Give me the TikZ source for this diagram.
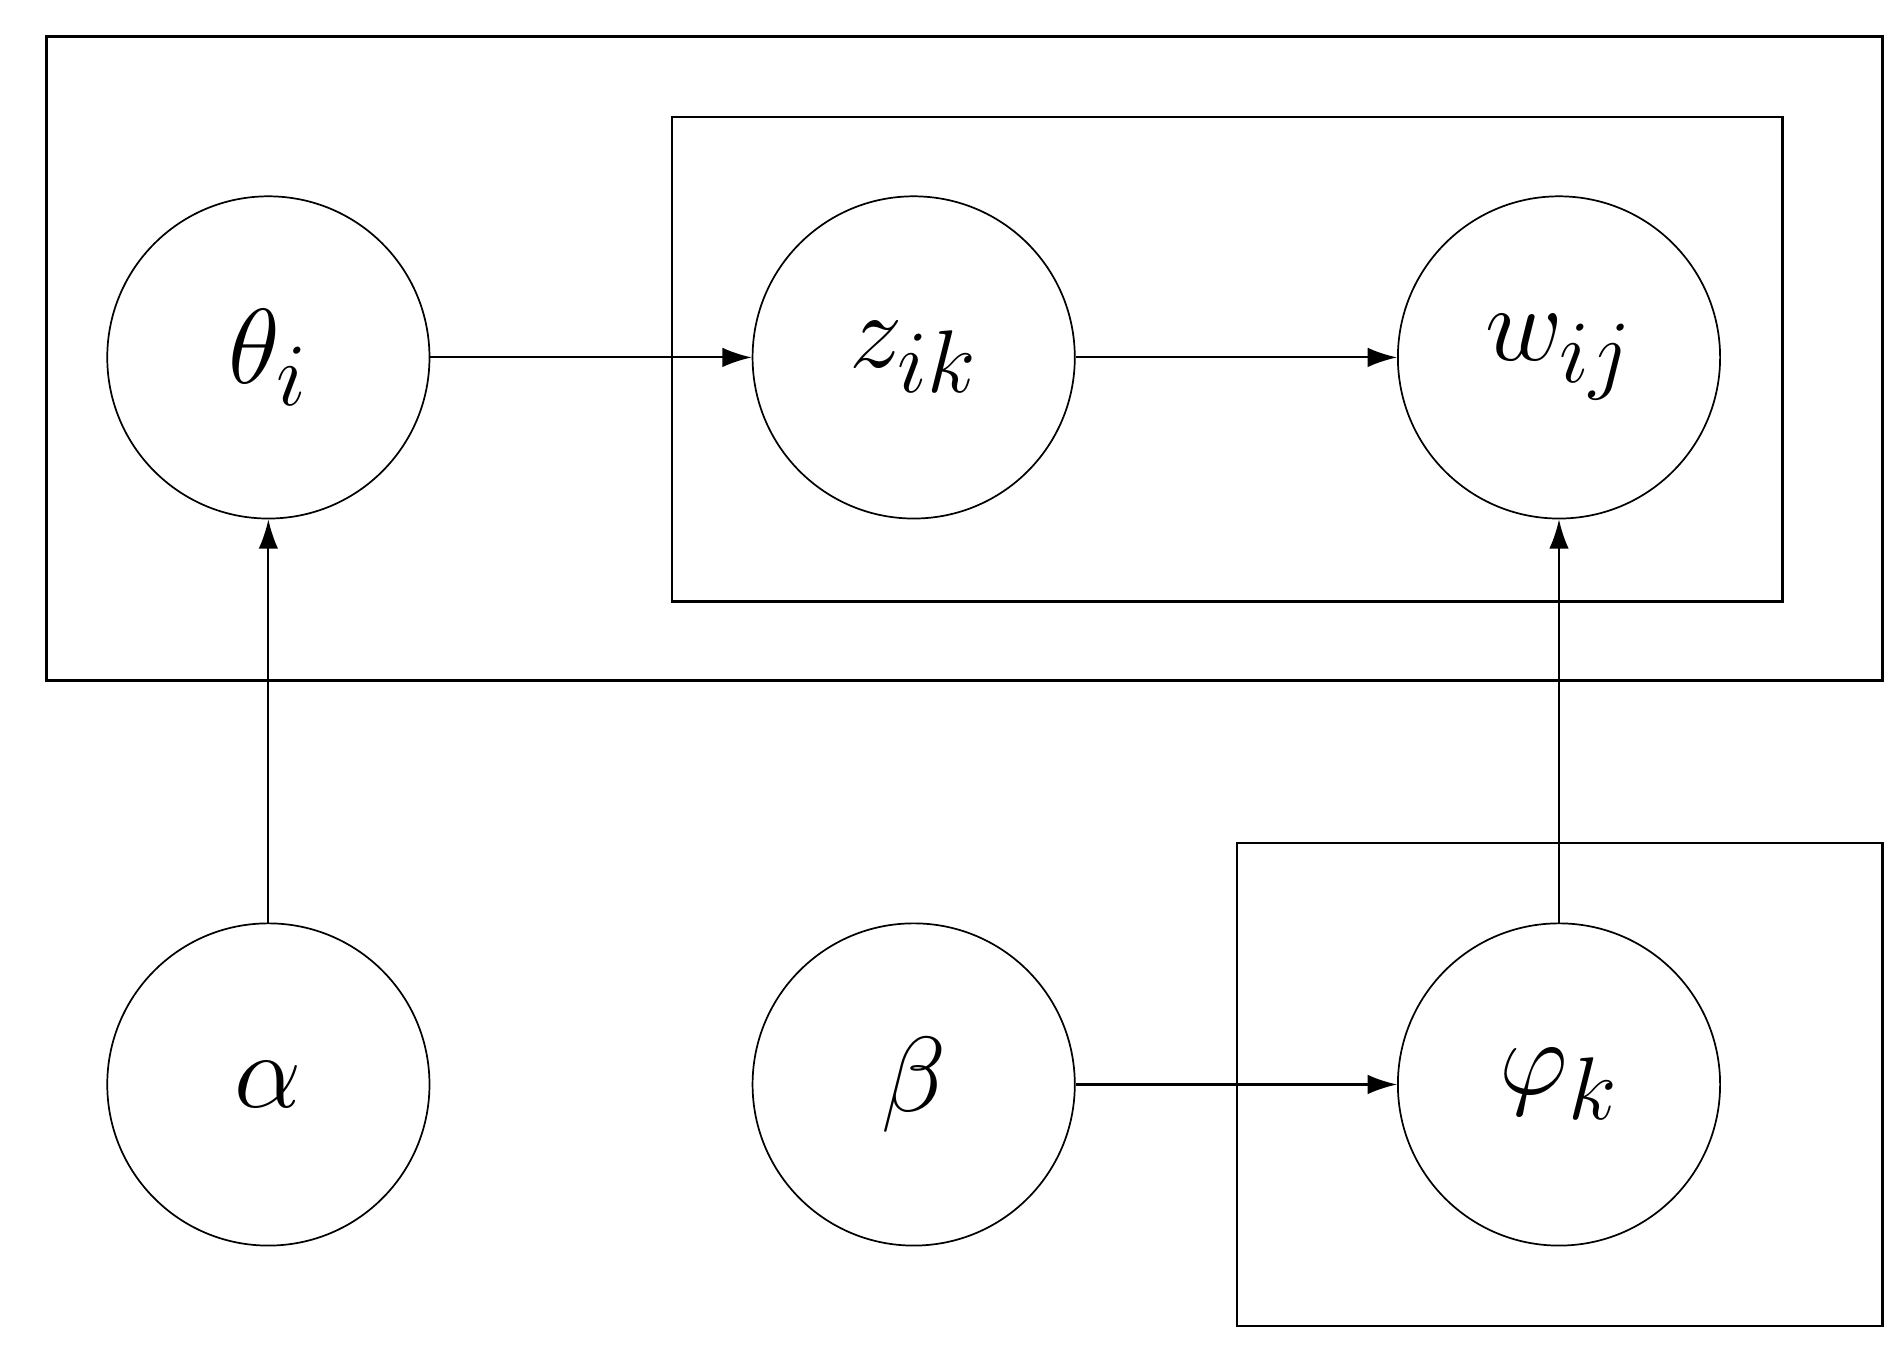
\documentclass[tikz,border=0pt]{standalone}
\usepackage{amsmath}
\usetikzlibrary{arrows.meta}
\tikzset{
  var/.style={draw, circle, minimum size=2.64cm, inner sep=0pt, font=\fontsize{44}{50}\selectfont},
  plate/.style={draw, line width=0.6pt},
  edge/.style={-{Latex[length=2.4mm,width=1.6mm]}, line width=0.5pt}
}
\begin{document}
\begin{tikzpicture}[x=0.01cm,y=-0.01cm]
	\useasboundingbox (0,0) rectangle (1560,1112);
	% plates
	\draw[plate] (38,30) rectangle (1543,558);
	\draw[plate] (551,96) rectangle (1461,493);
	\draw[plate] (1014,691) rectangle (1543,1087);

	% variables
	\node[var] (theta) at (220,293) {$\theta_{\scriptscriptstyle i}$};
	\node[var] (z) at (749,293) {$z_{\scriptscriptstyle ik}$};
	\node[var] (w) at (1278,293) {$w_{\scriptscriptstyle ij}$};
	\node[var] (alpha) at (220,889) {$\alpha$};
	\node[var] (beta) at (749,889) {$\beta$};
	\node[var] (phi) at (1278,889) {$\varphi_{\scriptscriptstyle k}$};

	% edges
	\draw[edge] (theta) -- (z);
	\draw[edge] (z) -- (w);
	\draw[edge] (alpha) -- (theta);
	\draw[edge] (beta) -- (phi);
	\draw[edge] (phi) -- (w);
\end{tikzpicture}
\end{document}
